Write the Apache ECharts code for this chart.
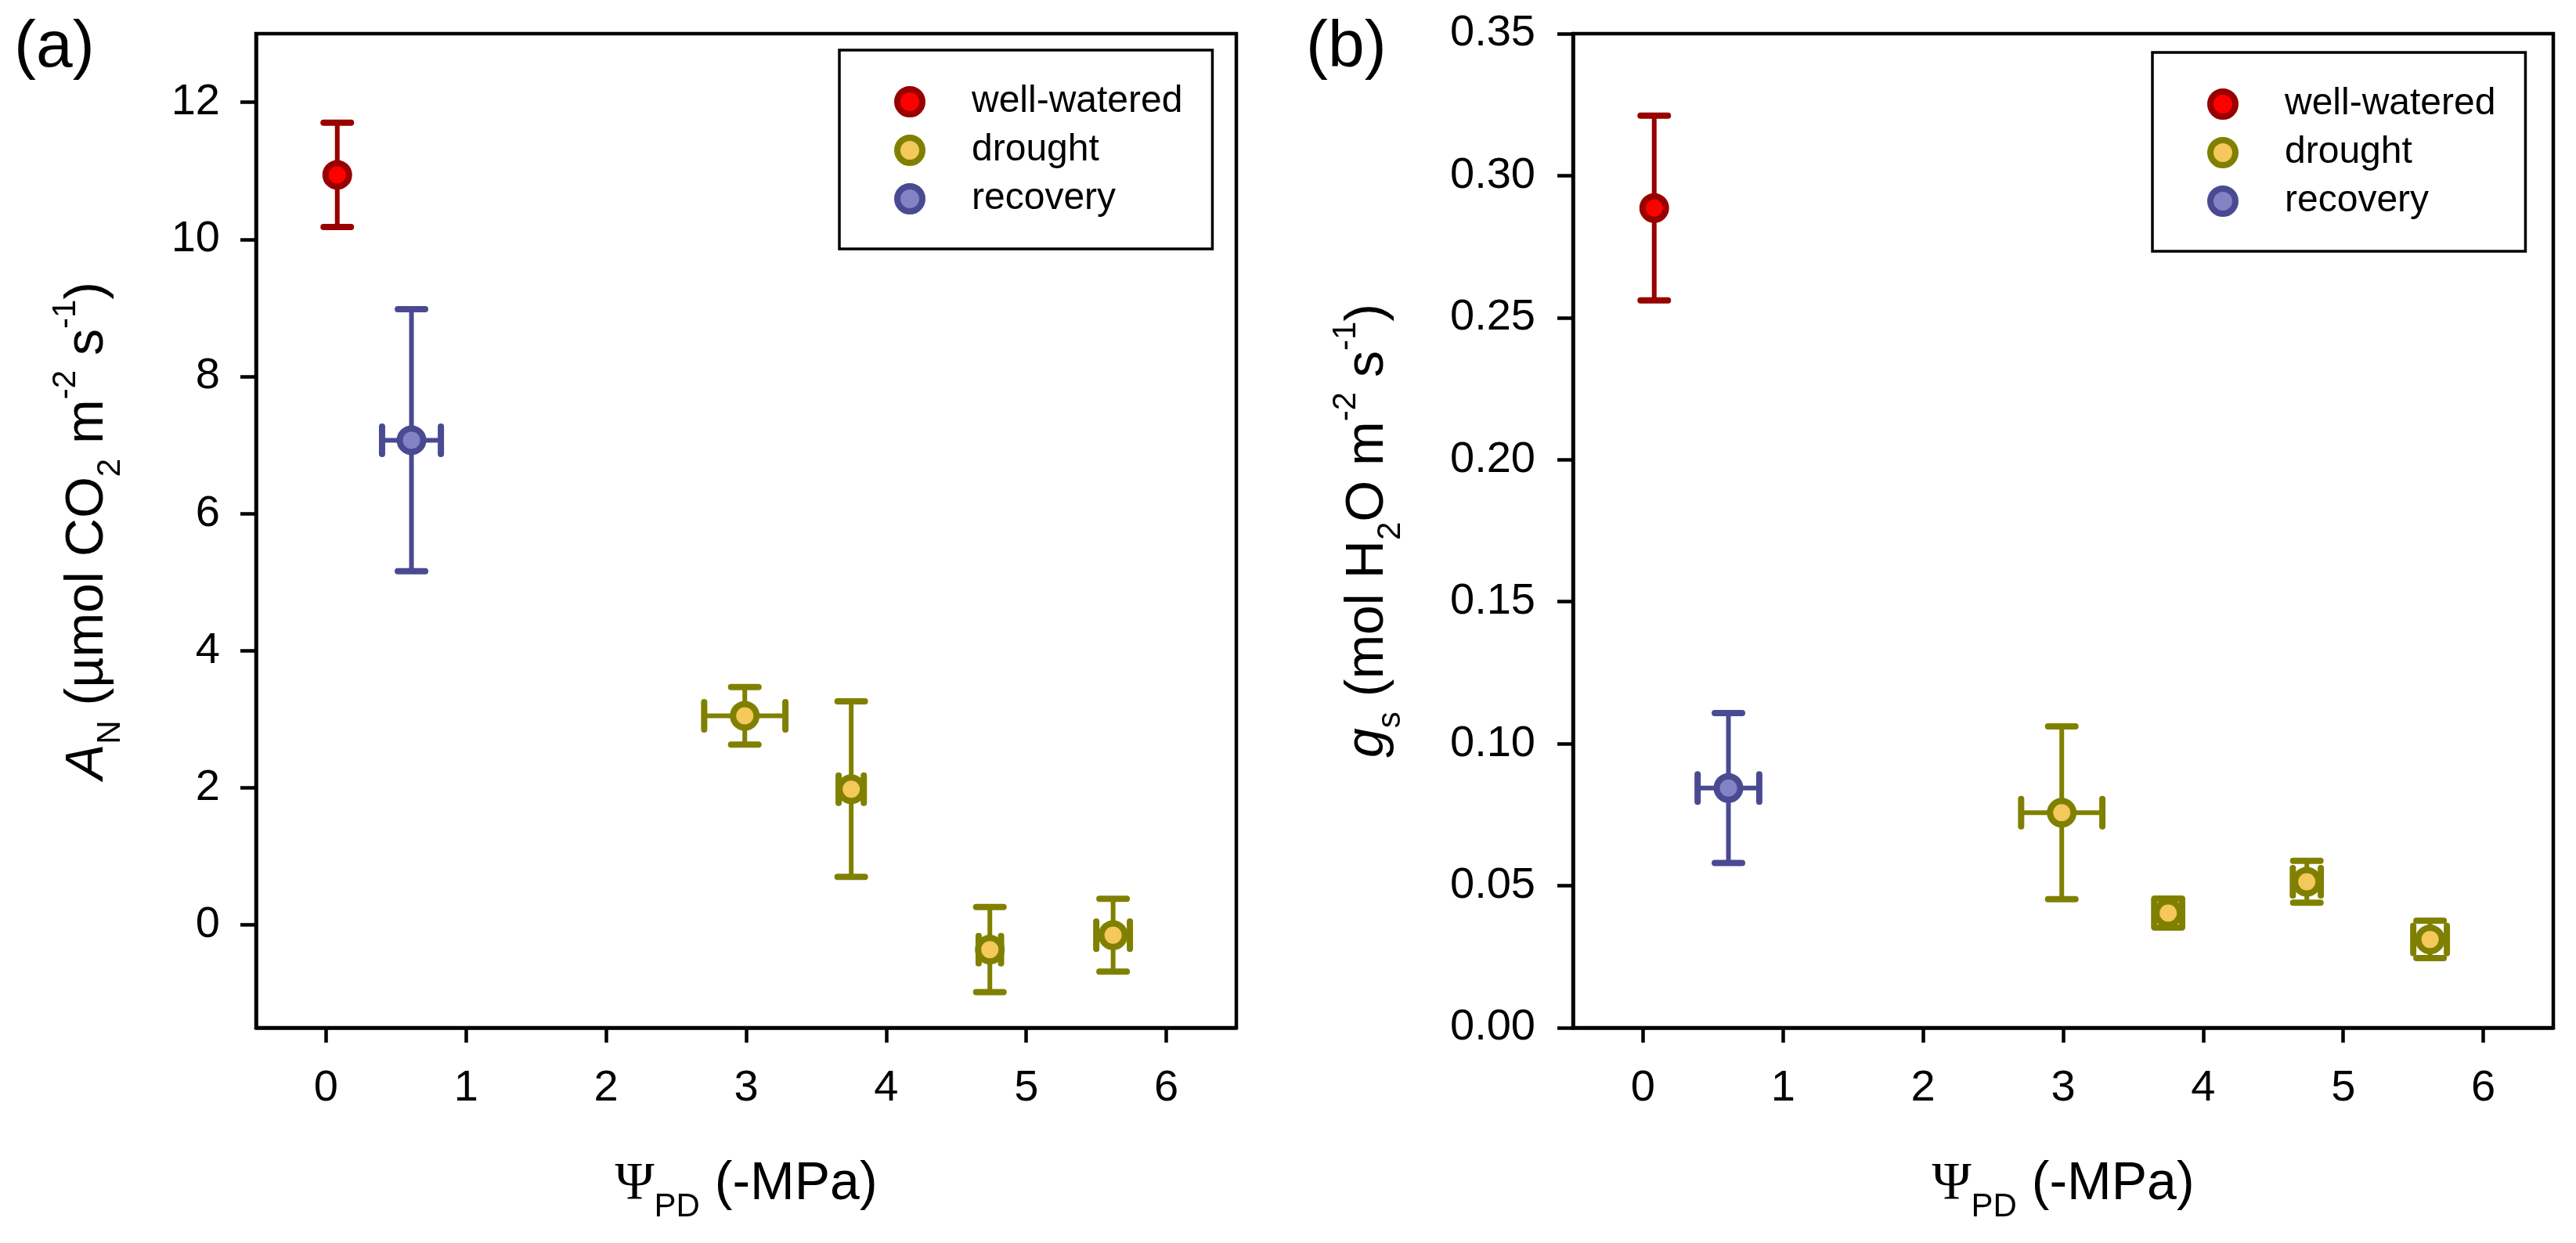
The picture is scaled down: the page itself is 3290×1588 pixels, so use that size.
<!DOCTYPE html>
<html>
<head>
<meta charset="utf-8">
<script src="https://cdn.jsdelivr.net/npm/echarts@6/dist/echarts.min.js"></script>
<style>
html,body{margin:0;padding:0;background:#fff;}
#chart{width:3290px;height:1588px;}
</style>
</head>
<body>
<div id="chart"></div>
<script>
// ---------------- data ----------------
const seriesNames = ['well-watered', 'drought', 'recovery'];

// Psi_PD (-MPa) and its error
const xWellWatered = [0.08];
const xErrWellWatered = [0];
const xDrought = [2.99, 3.75, 4.74, 5.62];
const xErrDrought = [0.29, 0.09, 0.08, 0.12];
const xRecovery = [0.61];
const xErrRecovery = [0.21];

// Panel (a): A_N
const anWellWatered = [10.94];
const anErrWellWatered = [0.76];
const anDrought = [3.05, 1.98, -0.36, -0.15];
const anErrDrought = [0.42, 1.28, 0.62, 0.53];
const anRecovery = [7.07];
const anErrRecovery = [1.91];

// Panel (b): g_s
const gsWellWatered = [0.2886];
const gsErrWellWatered = [0.0325];
const gsDrought = [0.0757, 0.0404, 0.0514, 0.0311];
const gsErrDrought = [0.0304, 0.0051, 0.0074, 0.0066];
const gsRecovery = [0.0844];
const gsErrRecovery = [0.0264];
// x errors in panel (b)
const xErrDroughtB = [0.29, 0.10, 0.10, 0.12];
const xErrRecoveryB = [0.22];

// tick labels
const xTicks = [0, 1, 2, 3, 4, 5, 6];
const anTicks = [0, 2, 4, 6, 8, 10, 12];
const gsTicks = [0, 0.05, 0.10, 0.15, 0.20, 0.25, 0.30, 0.35];

// ---------------- styles ----------------
const FONT = '"Liberation Sans", Arial, sans-serif';
const styles = {
  'well-watered': {fill: '#ff0000', stroke: '#990000'},
  'drought': {fill: '#f4c85a', stroke: '#808000'},
  'recovery': {fill: '#8282c4', stroke: '#4a4a92'}
};

function pts(xs, ys, xe, ye) {
  return xs.map((x, i) => [x, ys[i], xe[i], ye[i]]);
}

const CAP = 35;
function makeErrRender(color) {
  return function (params, api) {
    const x = api.value(0), y = api.value(1), xe = api.value(2), ye = api.value(3);
    const c = api.coord([x, y]);
    const top = api.coord([x, y + ye]);
    const bot = api.coord([x, y - ye]);
    const stem = {stroke: color, lineWidth: 6};
    const cap = {stroke: color, lineWidth: 8, lineCap: 'round'};
    const children = [
      {type: 'line', shape: {x1: c[0], y1: top[1], x2: c[0], y2: bot[1]}, style: stem},
      {type: 'line', shape: {x1: c[0] - CAP / 2, y1: top[1], x2: c[0] + CAP / 2, y2: top[1]}, style: cap},
      {type: 'line', shape: {x1: c[0] - CAP / 2, y1: bot[1], x2: c[0] + CAP / 2, y2: bot[1]}, style: cap}
    ];
    if (xe > 0) {
      const l = api.coord([x - xe, y]);
      const r = api.coord([x + xe, y]);
      children.push(
        {type: 'line', shape: {x1: l[0], y1: c[1], x2: r[0], y2: c[1]}, style: stem},
        {type: 'line', shape: {x1: l[0], y1: c[1] - CAP / 2, x2: l[0], y2: c[1] + CAP / 2}, style: cap},
        {type: 'line', shape: {x1: r[0], y1: c[1] - CAP / 2, x2: r[0], y2: c[1] + CAP / 2}, style: cap}
      );
    }
    return {type: 'group', children: children};
  };
}

const panelData = [
  {
    'well-watered': pts(xWellWatered, anWellWatered, xErrWellWatered, anErrWellWatered),
    'drought': pts(xDrought, anDrought, xErrDrought, anErrDrought),
    'recovery': pts(xRecovery, anRecovery, xErrRecovery, anErrRecovery)
  },
  {
    'well-watered': pts(xWellWatered, gsWellWatered, xErrWellWatered, gsErrWellWatered),
    'drought': pts(xDrought, gsDrought, xErrDroughtB, gsErrDrought),
    'recovery': pts(xRecovery, gsRecovery, xErrRecoveryB, gsErrRecovery)
  }
];

const series = [];
[0, 1].forEach(p => {
  seriesNames.forEach(name => {
    series.push({
      name: name, type: 'scatter', xAxisIndex: p, yAxisIndex: p, z: 5,
      symbol: 'circle', symbolSize: 30,
      itemStyle: {color: styles[name].fill, borderColor: styles[name].stroke, borderWidth: 8, opacity: 1},
      emphasis: {disabled: true},
      data: panelData[p][name].map(d => [d[0], d[1]])
    });
  });
});
[0, 1].forEach(p => {
  seriesNames.forEach(name => {
    series.push({
      name: name, type: 'custom', xAxisIndex: p, yAxisIndex: p, z: 3,
      renderItem: makeErrRender(styles[name].stroke),
      encode: {x: 0, y: 1},
      silent: true,
      data: panelData[p][name]
    });
  });
});

const subPad = [58, 0, 0, 0];
const supPad = [0, 0, 56, 0];
const richCommon = {
  n: {fontSize: 68, fontFamily: FONT, color: '#000'},
  i: {fontSize: 68, fontFamily: FONT, fontStyle: 'italic', color: '#000'},
  sub: {fontSize: 42, fontFamily: FONT, color: '#000', padding: subPad},
  sup: {fontSize: 42, fontFamily: FONT, color: '#000', padding: supPad},
  psi: {fontSize: 68, fontFamily: '"Liberation Serif", "Times New Roman", serif', color: '#000'}
};

function xAxisCfg(idx) {
  return {
    type: 'value', gridIndex: idx, min: -0.5, max: 6.5,
    name: '{psi|Ψ}{sub|PD}{n| (-MPa)}',
    nameLocation: 'middle', nameGap: 150,
    nameTextStyle: {rich: richCommon},
    axisLine: {show: true, onZero: false, lineStyle: {color: '#000', width: 4.5}},
    axisTick: {show: true, inside: false, length: 19, lineStyle: {color: '#000', width: 4.5}, customValues: xTicks},
    axisLabel: {show: true, margin: 50, fontSize: 56, fontFamily: FONT, color: '#000', customValues: xTicks},
    splitLine: {show: false}
  };
}

const legendData = seriesNames.map(n => ({
  name: n, icon: 'circle',
  itemStyle: {color: styles[n].fill, borderColor: styles[n].stroke, borderWidth: 8}
}));
function legendCfg(left, top) {
  return {
    orient: 'vertical', left: left, top: top,
    data: legendData,
    itemWidth: 32, itemHeight: 32, itemGap: 14,
    padding: [42, 38, 40, 70],
    borderColor: '#000', borderWidth: 3.5,
    selectedMode: false,
    textStyle: {fontSize: 48, fontFamily: FONT, color: '#000', lineHeight: 48, padding: [0, 0, 0, 58]}
  };
}

const option = {
  backgroundColor: '#fff',
  animation: false,
  graphic: [
    {type: 'text', left: 18, top: 20, style: {text: '(a)', fontSize: 84, fontFamily: FONT, fill: '#000'}},
    {type: 'text', left: 1668, top: 20, style: {text: '(b)', fontSize: 84, fontFamily: FONT, fill: '#000'}}
  ],
  legend: [legendCfg(1072, 64), legendCfg(2749, 67)],
  grid: [
    {left: 327, top: 43, width: 1252, height: 1270, show: true, borderColor: '#000', borderWidth: 4.5, containLabel: false},
    {left: 2009, top: 43, width: 1252, height: 1270, show: true, borderColor: '#000', borderWidth: 4.5, containLabel: false}
  ],
  xAxis: [xAxisCfg(0), xAxisCfg(1)],
  yAxis: [
    {
      type: 'value', gridIndex: 0, min: -1.5, max: 13,
      name: '{i|A}{sub|N}{n| (µmol CO}{sub|2}{n| m}{sup|-2}{n| s}{sup|-1}{n|)}',
      nameLocation: 'middle', nameRotate: 90, nameGap: 165,
      nameTextStyle: {rich: richCommon},
      axisLine: {show: true, onZero: false, lineStyle: {color: '#000', width: 4.5}},
      axisTick: {show: true, inside: false, length: 20, lineStyle: {color: '#000', width: 4.5}, customValues: anTicks},
      axisLabel: {show: true, margin: 46, fontSize: 56, fontFamily: FONT, color: '#000', customValues: anTicks},
      splitLine: {show: false}
    },
    {
      type: 'value', gridIndex: 1, min: 0, max: 0.35,
      name: '{i|g}{sub|s}{n| (mol H}{sub|2}{n|O m}{sup|-2}{n| s}{sup|-1}{n|)}',
      nameLocation: 'middle', nameRotate: 90, nameGap: 212,
      nameTextStyle: {rich: richCommon},
      axisLine: {show: true, onZero: false, lineStyle: {color: '#000', width: 4.5}},
      axisTick: {show: true, inside: false, length: 20, lineStyle: {color: '#000', width: 4.5}, customValues: gsTicks},
      axisLabel: {show: true, margin: 48, fontSize: 56, fontFamily: FONT, color: '#000', customValues: gsTicks,
        formatter: v => Number(v).toFixed(2)},
      splitLine: {show: false}
    }
  ],
  series: series
};

const chart = echarts.init(document.getElementById('chart'), null, {renderer: 'canvas'});
chart.setOption(option);
</script>
</body>
</html>
